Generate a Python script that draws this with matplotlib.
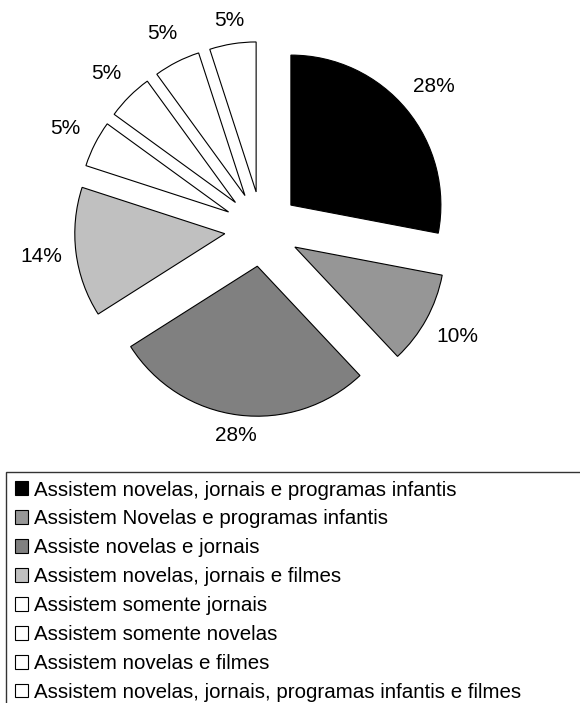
import numpy as np
import matplotlib.pyplot as plt
from matplotlib.patches import Patch

plt.rcParams['font.family'] = ['Liberation Sans', 'DejaVu Sans']

categorias = [
    'Assistem novelas, jornais e programas infantis',
    'Assistem Novelas e programas infantis',
    'Assiste novelas e jornais',
    'Assistem novelas, jornais e filmes',
    'Assistem somente jornais',
    'Assistem somente novelas',
    'Assistem novelas e filmes',
    'Assistem novelas, jornais, programas infantis e filmes',
]
percentuais = [28, 10, 28, 14, 5, 5, 5, 5]
cores = ['#000000', '#969696', '#808080', '#c0c0c0',
         '#ffffff', '#ffffff', '#ffffff', '#ffffff']

W, H = 580, 703
fig = plt.figure(figsize=(W / 100, H / 100), dpi=100)

# pie area: centre at (262, 229) px, radius 150 px
cx, cy, r = 262, 229, 150
ax = fig.add_axes([0, 1 - 450 / H, 1, 450 / H])

explode = 0.25
wedges, texts = ax.pie(
    percentuais,
    colors=cores,
    startangle=90,
    counterclock=False,
    explode=[explode] * len(percentuais),
    labels=[f'{p}%' for p in percentuais],
    wedgeprops=dict(edgecolor='black', linewidth=0.8),
    textprops=dict(fontsize=15),
    frame=True,
)
# label distance per slice (Excel places them a bit unevenly)
dist = [1.24, 1.24, 1.14, 1.23, 1.22, 1.22, 1.21, 1.16]
for w, t, d in zip(wedges, texts, dist):
    th = np.deg2rad((w.theta1 + w.theta2) / 2)
    t.set_position(((explode + d) * np.cos(th), (explode + d) * np.sin(th)))
    t.set_ha('center')
    t.set_va('center')

ax.set_xlim(-cx / r, (W - cx) / r)
ax.set_ylim((cy - 450) / r, cy / r)
ax.set_aspect('auto')
ax.axis('off')

handles = [Patch(facecolor=c, edgecolor='black', linewidth=0.8) for c in cores]
leg = fig.legend(
    handles, categorias,
    loc='upper left',
    bbox_to_anchor=(6 / W, 0, 590 / W, 1 - 472 / H),
    mode='expand',
    fontsize=14.8,
    frameon=True,
    fancybox=False,
    edgecolor='black',
    handlelength=0.66,
    handleheight=0.66,
    handletextpad=0.3,
    labelspacing=0.48,
    borderpad=0.42,
    borderaxespad=0,
)
leg.get_frame().set_linewidth(1.0)

fig.savefig('out.png', dpi=100)
